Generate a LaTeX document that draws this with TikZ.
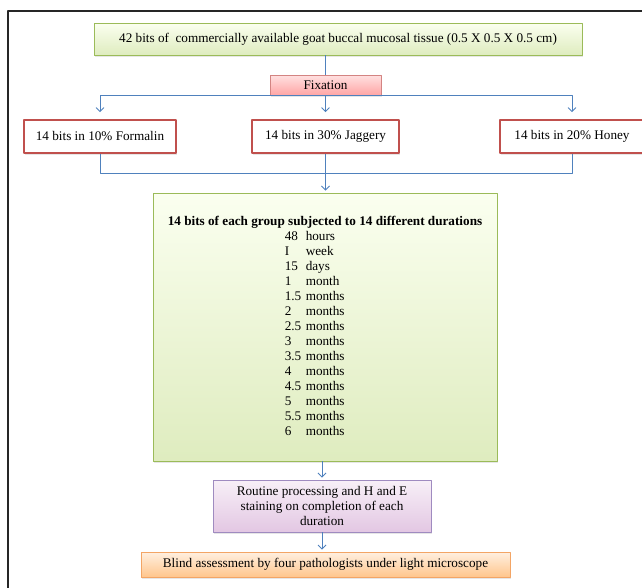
\documentclass[tikz,border=0pt]{standalone}
\usepackage{fontspec}
\setmainfont{Liberation Serif}
\usetikzlibrary{arrows.meta,shadows}
\definecolor{lineblue}{HTML}{4F81BD}
\definecolor{olive}{HTML}{9BBB59}
\definecolor{brickred}{HTML}{C0504D}
\definecolor{lilac}{HTML}{9F8BC0}
\definecolor{apricot}{HTML}{F3A565}
\begin{document}
\begin{tikzpicture}[x=1pt, y=-1pt, font=\fontsize{13.2}{15}\selectfont, line join=round, >={Straight Barb[length=4pt,width=8pt]},
	box/.style={inner sep=0pt, align=center, drop shadow={opacity=0.2, shadow xshift=1.2pt, shadow yshift=-1.5pt}},
	greenbox/.style={box, draw=olive, line width=0.9pt, top color=green!4!lime!6!white, bottom color=lime!20!olive!35!white},
	redbox/.style={box, draw=brickred, line width=1.8pt, fill=white},
	link/.style={draw=lineblue, line width=0.8pt}]
	\useasboundingbox (0,0) rectangle (642,587);
	% outer frame
	\draw[line width=1.3pt, black!85] (8,600) -- (8,11) -- (660,11);
	\node[greenbox, minimum width=488pt, minimum height=32pt] (tissue) at (338,39)
		{42 bits of \ commercially available goat buccal mucosal tissue (0.5 X 0.5 X 0.5 cm)};
	\node[box, draw=brickred!70, line width=0.9pt, top color=red!12!white, bottom color=red!35!white,
		minimum width=111pt, minimum height=20pt] (fix) at (325.5,85) {Fixation};
	\node[redbox, minimum width=152pt, minimum height=33pt] (formalin) at (100,136.5) {14 bits in 10\% Formalin};
	\node[redbox, minimum width=147pt, minimum height=33pt] (jaggery) at (325.5,136.5) {14 bits in 30\% Jaggery};
	\node[redbox, minimum width=144pt, minimum height=33pt] (honey) at (572,136.5) {14 bits in 20\% Honey};
	\node[greenbox, minimum width=344pt, minimum height=268pt] (dur) at (325,327) {%
		\begin{tabular}{@{\hspace{117pt}}p{18pt}@{\hspace{3pt}}l@{}}
		\multicolumn{2}{@{}l@{}}{\bfseries 14 bits of each group subjected to 14 different durations}\\
		48 & hours\\ I & week\\ 15 & days\\ 1 & month\\ 1.5 & months\\ 2 & months\\ 2.5 & months\\
		3 & months\\ 3.5 & months\\ 4 & months\\ 4.5 & months\\ 5 & months\\ 5.5 & months\\ 6 & months
		\end{tabular}};
	\node[box, draw=lilac, line width=0.9pt, top color=violet!6!white, bottom color=violet!22!white,
		minimum width=218pt, minimum height=52pt] (proc) at (322,506)
		{Routine processing and H and E\\ staining on completion of each\\ duration};
	\node[box, draw=apricot, line width=0.9pt, top color=orange!12!white, bottom color=orange!45!white,
		minimum width=369pt, minimum height=25pt] (blind) at (325.5,564.5)
		{Blind assessment by four pathologists under light microscope};
	\coordinate (merge) at (325.5,173);
	% connectors
	\draw[link] (fix.north) -- (fix.north |- tissue.south);
	\foreach \b in {formalin,jaggery,honey}\draw[link,->,shorten >=7pt] (fix.south) -| (\b.north);
	\foreach \b in {formalin,honey}\draw[link] (\b.south) |- (merge);
	\draw[link,->,shorten >=2pt] (jaggery.south) -- (jaggery.south |- dur.north);
	\draw[link,->,shorten >=2pt] (dur.south -| proc) -- (proc.north);
	\draw[link,->,shorten >=2pt] (proc.south) -- (blind.north -| proc);
\end{tikzpicture}
\end{document}
